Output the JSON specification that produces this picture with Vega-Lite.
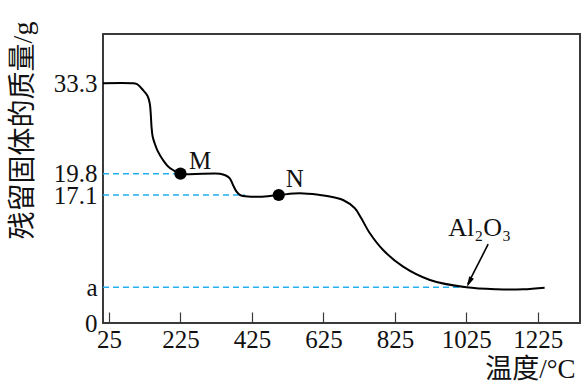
{
  "$schema": "https://vega.github.io/schema/vega-lite/v6.json",
  "width": 477,
  "height": 289,
  "autosize": "none",
  "padding": {"left": 103, "top": 34, "right": 2, "bottom": 64},
  "background": "white",
  "config": {
    "view": {"stroke": "#3a3a3a", "strokeWidth": 2},
    "font": "Liberation Serif"
  },
  "datasets": {
    "curve": [
      {"t": 8, "m": 33.3}, {"t": 88, "m": 33.3}, {"t": 102, "m": 33.2}, {"t": 120, "m": 32.3},
      {"t": 133, "m": 31.4}, {"t": 139, "m": 30.3}, {"t": 142, "m": 28.6}, {"t": 144, "m": 26.8},
      {"t": 147, "m": 25.4}, {"t": 153, "m": 24.3}, {"t": 161, "m": 23.2}, {"t": 176, "m": 21.85},
      {"t": 189, "m": 20.95}, {"t": 204, "m": 20.35}, {"t": 225, "m": 19.8}, {"t": 335, "m": 19.8},
      {"t": 352, "m": 19.57}, {"t": 363, "m": 19.2}, {"t": 372, "m": 18.37}, {"t": 382, "m": 17.52},
      {"t": 391, "m": 17.12}, {"t": 400, "m": 16.97}, {"t": 447, "m": 16.88}, {"t": 500, "m": 17.1},
      {"t": 559, "m": 17.31}, {"t": 615, "m": 17.1}, {"t": 643, "m": 16.9}, {"t": 680, "m": 16.45},
      {"t": 713, "m": 15.37}, {"t": 731, "m": 14.07}, {"t": 755, "m": 12.12}, {"t": 792, "m": 9.95},
      {"t": 848, "m": 7.78}, {"t": 923, "m": 6.05}, {"t": 1025, "m": 5.1}, {"t": 1109, "m": 4.82},
      {"t": 1184, "m": 4.82}, {"t": 1244, "m": 5.05}
    ],
    "guides": [
      {"t0": 8.2, "t1": 225, "m": 19.8},
      {"t0": 8.2, "t1": 405, "m": 17.1},
      {"t0": 8.2, "t1": 1025, "m": 5.1}
    ],
    "points": [
      {"t": 225, "m": 19.8, "label": "M", "lt": 280, "lm": 21.7},
      {"t": 500, "m": 17.1, "label": "N", "lt": 545, "lm": 19.1}
    ],
    "arrow": [
      {"t0": 1086, "m0": 10.7, "t1": 1029, "m1": 5.5, "ht": 1033, "hm": 5.76, "label": "Al₂O₃", "lt": 1062, "lm": 12.8}
    ]
  },
  "layer": [
    {
      "data": {"name": "guides"},
      "mark": {"type": "rule", "color": "#22aff0", "strokeWidth": 1.6, "strokeDash": [6, 4]},
      "encoding": {
        "x": {
          "field": "t0", "type": "quantitative",
          "scale": {"domain": [8.2, 1343], "nice": false, "zero": false},
          "axis": {
            "values": [25, 225, 425, 625, 825, 1025, 1225], "format": "d",
            "domain": false, "grid": false,
            "tickSize": -11, "tickColor": "#3a3a3a", "tickWidth": 1.2,
            "labelPadding": 15, "labelFontSize": 25, "labelColor": "#111", "labelFont": "Liberation Serif",
            "title": "温度/°C", "titleFont": "Liberation Serif, Noto Sans CJK SC", "titleFontSize": 27,
            "titleFontWeight": "normal", "titleColor": "#111",
            "titleX": 472, "titleY": 46, "titleAlign": "right", "titleBaseline": "middle"
          }
        },
        "x2": {"field": "t1"},
        "y": {
          "field": "m", "type": "quantitative",
          "scale": {
            "domain": [0, 5.1, 17.1, 19.8, 33.3, 40.66],
            "range": [289.3, 253.3, 161, 139.7, 49.3, 0],
            "nice": false, "zero": false
          },
          "axis": {
            "values": [0, 5.1, 17.1, 19.8, 33.3],
            "labelExpr": "datum.value == 5.1 ? 'a' : datum.value == 0 ? '0' : format(datum.value, '.1f')",
            "domain": false, "grid": false, "ticks": false,
            "labelPadding": 6, "labelFontSize": 25, "labelColor": "#111", "labelFont": "Liberation Serif",
            "labelOverlap": false,
            "title": "残留固体的质量/g", "titleFont": "Liberation Serif, Noto Sans CJK SC", "titleFontSize": 28,
            "titleFontWeight": "normal", "titleColor": "#111",
            "titleX": -80, "titleY": 96, "titleAlign": "center", "titleBaseline": "middle", "titleAngle": -90
          }
        }
      }
    },
    {
      "data": {"name": "curve"},
      "mark": {"type": "line", "color": "#000", "strokeWidth": 2, "interpolate": "catmull-rom"},
      "encoding": {
        "x": {"field": "t", "type": "quantitative"},
        "y": {"field": "m", "type": "quantitative"}
      }
    },
    {
      "data": {"name": "points"},
      "mark": {"type": "point", "filled": true, "color": "#000", "size": 150, "opacity": 1},
      "encoding": {
        "x": {"field": "t", "type": "quantitative"},
        "y": {"field": "m", "type": "quantitative"}
      }
    },
    {
      "data": {"name": "points"},
      "mark": {"type": "text", "font": "Liberation Serif", "fontSize": 25, "color": "#111", "align": "center", "baseline": "middle"},
      "encoding": {
        "x": {"field": "lt", "type": "quantitative"},
        "y": {"field": "lm", "type": "quantitative"},
        "text": {"field": "label"}
      }
    },
    {
      "data": {"name": "arrow"},
      "mark": {"type": "rule", "color": "#000", "strokeWidth": 1.6},
      "encoding": {
        "x": {"field": "t0", "type": "quantitative"},
        "y": {"field": "m0", "type": "quantitative"},
        "x2": {"field": "t1"},
        "y2": {"field": "m1"}
      }
    },
    {
      "data": {"name": "arrow"},
      "mark": {"type": "point", "filled": true, "color": "#000", "opacity": 1, "size": 110, "shape": "M0,-1L-0.5,1L0.5,1Z", "angle": 206},
      "encoding": {
        "x": {"field": "ht", "type": "quantitative"},
        "y": {"field": "hm", "type": "quantitative"}
      }
    },
    {
      "data": {"name": "arrow"},
      "mark": {"type": "text", "font": "Liberation Serif, DejaVu Serif", "fontSize": 26, "color": "#111", "align": "center", "baseline": "middle"},
      "encoding": {
        "x": {"field": "lt", "type": "quantitative"},
        "y": {"field": "lm", "type": "quantitative"},
        "text": {"field": "label"}
      }
    }
  ]
}
